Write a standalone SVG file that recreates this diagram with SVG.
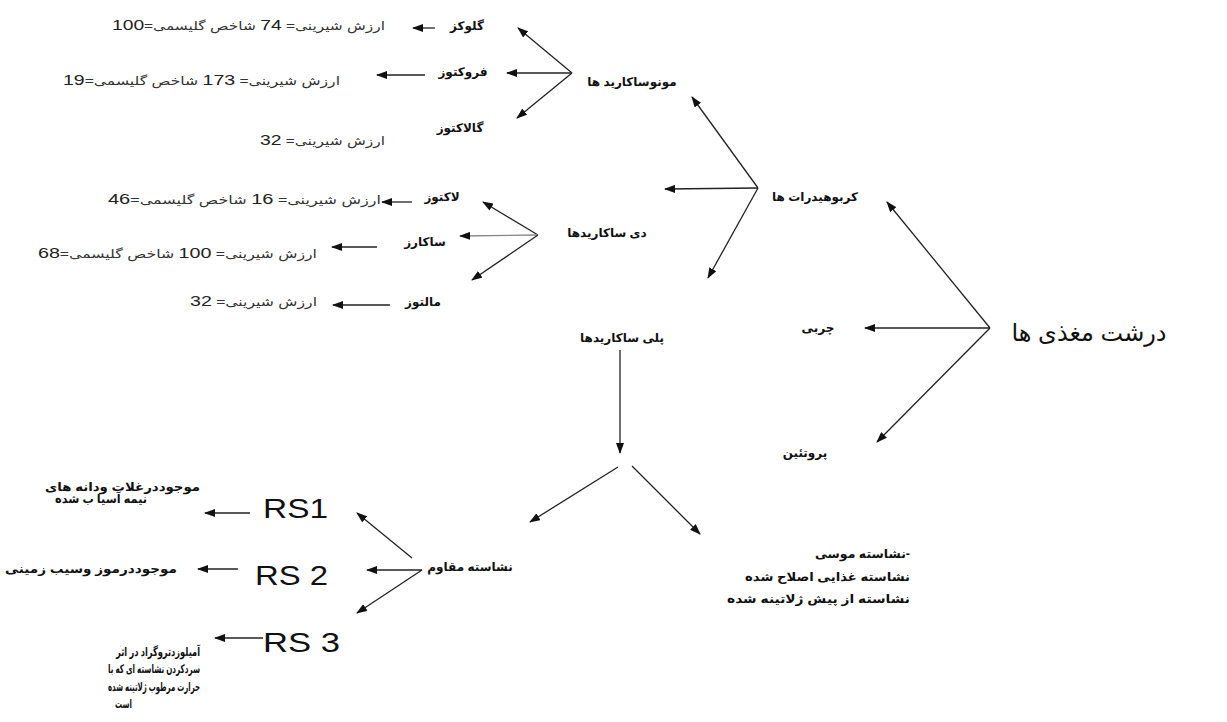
<svg xmlns="http://www.w3.org/2000/svg" width="1227" height="722" viewBox="0 0 1227 722">
<defs>
<marker id="ah" markerUnits="userSpaceOnUse" markerWidth="11" markerHeight="8" refX="10" refY="4" orient="auto">
<path d="M0,0 L11,4 L0,8 z" fill="#111"/>
</marker>
<style>
text{font-family:"Liberation Sans","DejaVu Sans",sans-serif;fill:#111;direction:rtl;unicode-bidi:embed;text-anchor:middle}
.lb{font-size:12px;font-weight:bold}
.vl{font-size:12px;fill:#333}
.vl tspan.n{font-size:15px;fill:#222}
.nt{font-size:12px;font-weight:bold}
.rs{font-size:28px;direction:ltr}
.big{font-size:24px}
.c line{stroke:#222;stroke-width:1.3;marker-end:url(#ah)}
.c line.g{stroke:#888}
</style>
</defs>
<rect width="1227" height="722" fill="#fff"/>

<g class="c" id="connectors">
<line x1="572" y1="73" x2="518" y2="28"/>
<line x1="572" y1="73" x2="507" y2="73"/>
<line x1="572" y1="73" x2="517" y2="118"/>
<line x1="435" y1="28" x2="413" y2="28"/>
<line x1="425" y1="75" x2="377" y2="75"/>
<line x1="758" y1="188" x2="692" y2="97"/>
<line x1="758" y1="188" x2="665" y2="189"/>
<line x1="758" y1="188" x2="708" y2="278"/>
<line x1="538" y1="235" x2="483" y2="202"/>
<line class="g" x1="538" y1="235" x2="460" y2="236"/>
<line x1="538" y1="235" x2="472" y2="280"/>
<line x1="412" y1="202" x2="382" y2="202"/>
<line x1="377" y1="247" x2="332" y2="247"/>
<line x1="390" y1="305" x2="333" y2="305"/>
<line x1="990" y1="328" x2="887" y2="202"/>
<line x1="990" y1="328" x2="865" y2="328"/>
<line x1="990" y1="328" x2="877" y2="442"/>
<line x1="620" y1="350" x2="620" y2="453"/>
<line x1="618" y1="467" x2="530" y2="522"/>
<line x1="632" y1="466" x2="700" y2="534"/>
<line x1="412" y1="558" x2="357" y2="513"/>
<line x1="422" y1="570" x2="367" y2="570"/>
<line x1="422" y1="570" x2="357" y2="613"/>
<line x1="250" y1="513" x2="205" y2="513"/>
<line x1="238" y1="569" x2="198" y2="569"/>
<line x1="263" y1="638" x2="215" y2="638"/>
</g>

<g id="macro"><text class="big" x="1089" y="341">درشت مغذی ها</text></g>
<g id="carbs"><text class="lb" x="815" y="201">کربوهیدرات ها</text></g>
<g id="fat"><text class="lb" x="818" y="332">چربی</text></g>
<g id="protein"><text class="lb" x="805" y="457">پروتئین</text></g>
<g id="mono"><text class="lb" x="632" y="86">مونوساکارید ها</text></g>
<g id="di"><text class="lb" x="607" y="237">دی ساکاریدها</text></g>
<g id="poly"><text class="lb" x="622" y="342">پلی ساکاریدها</text></g>

<g id="glucose"><text class="lb" x="467" y="30">گلوکز</text></g>
<g id="fructose"><text class="lb" x="463" y="76">فروکتوز</text></g>
<g id="galactose"><text class="lb" x="460" y="132">گالاکتوز</text></g>
<g id="lactose"><text class="lb" x="442" y="201">لاکتوز</text></g>
<g id="sucrose"><text class="lb" x="425" y="246">ساکارز</text></g>
<g id="maltose"><text class="lb" x="423" y="306">مالتوز</text></g>

<g id="v-glucose"><text class="vl" x="248.5" y="30" textLength="273" lengthAdjust="spacingAndGlyphs">ارزش شیرینی= <tspan class="n">74</tspan>  شاخص گلیسمی=<tspan class="n">100</tspan></text></g>
<g id="v-fructose"><text class="vl" x="201.5" y="85" textLength="277" lengthAdjust="spacingAndGlyphs">ارزش شیرینی= <tspan class="n">173</tspan>  شاخص گلیسمی=<tspan class="n">19</tspan></text></g>
<g id="v-galactose"><text class="vl" x="322.5" y="145" textLength="125" lengthAdjust="spacingAndGlyphs">ارزش شیرینی= <tspan class="n">32</tspan></text></g>
<g id="v-lactose"><text class="vl" x="244.5" y="204" textLength="273" lengthAdjust="spacingAndGlyphs">ارزش شیرینی= <tspan class="n">16</tspan>  شاخص گلیسمی=<tspan class="n">46</tspan></text></g>
<g id="v-sucrose"><text class="vl" x="177.5" y="258" textLength="279" lengthAdjust="spacingAndGlyphs">ارزش شیرینی= <tspan class="n">100</tspan>  شاخص گلیسمی=<tspan class="n">68</tspan></text></g>
<g id="v-maltose"><text class="vl" x="253.5" y="306" textLength="127" lengthAdjust="spacingAndGlyphs">ارزش شیرینی= <tspan class="n">32</tspan></text></g>

<g id="resistant"><text class="lb" x="470" y="571">نشاسته مقاوم</text></g>
<g id="other-starch">
<text class="nt" x="862.5" y="558" textLength="95" lengthAdjust="spacingAndGlyphs">-نشاسته موسی</text>
<text class="nt" x="827.5" y="581" textLength="165" lengthAdjust="spacingAndGlyphs">نشاسته غذایی اصلاح شده</text>
<text class="nt" x="818.5" y="603" textLength="183" lengthAdjust="spacingAndGlyphs">نشاسته از پیش ژلاتینه شده</text>
</g>
<g id="rs1"><text class="rs" x="295.5" y="518" textLength="65" lengthAdjust="spacingAndGlyphs">RS1</text></g>
<g id="rs2"><text class="rs" x="291.5" y="585" textLength="73" lengthAdjust="spacingAndGlyphs">RS 2</text></g>
<g id="rs3"><text class="rs" x="301.5" y="652" textLength="77" lengthAdjust="spacingAndGlyphs">RS 3</text></g>
<g id="rs1-note">
<text class="nt" x="122.5" y="491" textLength="155" lengthAdjust="spacingAndGlyphs">موجوددرغلات ودانه های</text>
<text class="nt" x="101" y="503" textLength="92" lengthAdjust="spacingAndGlyphs">نیمه آسیا ب شده</text>
</g>
<g id="rs2-note"><text class="nt" x="91" y="573" textLength="172" lengthAdjust="spacingAndGlyphs">موجوددرموز وسیب زمینی</text></g>
<g id="rs3-note">
<text class="nt" x="158" y="656" textLength="84" lengthAdjust="spacingAndGlyphs">آمیلوزدتروگراد در اثر</text>
<text class="nt" x="154" y="673" textLength="92" lengthAdjust="spacingAndGlyphs">سردکردن نشاسته ای که با</text>
<text class="nt" x="154" y="691" textLength="92" lengthAdjust="spacingAndGlyphs">حرارت مرطوب ژلاتینه شده</text>
<text class="nt" x="123.5" y="708" textLength="17" lengthAdjust="spacingAndGlyphs">است</text>
</g>
</svg>
